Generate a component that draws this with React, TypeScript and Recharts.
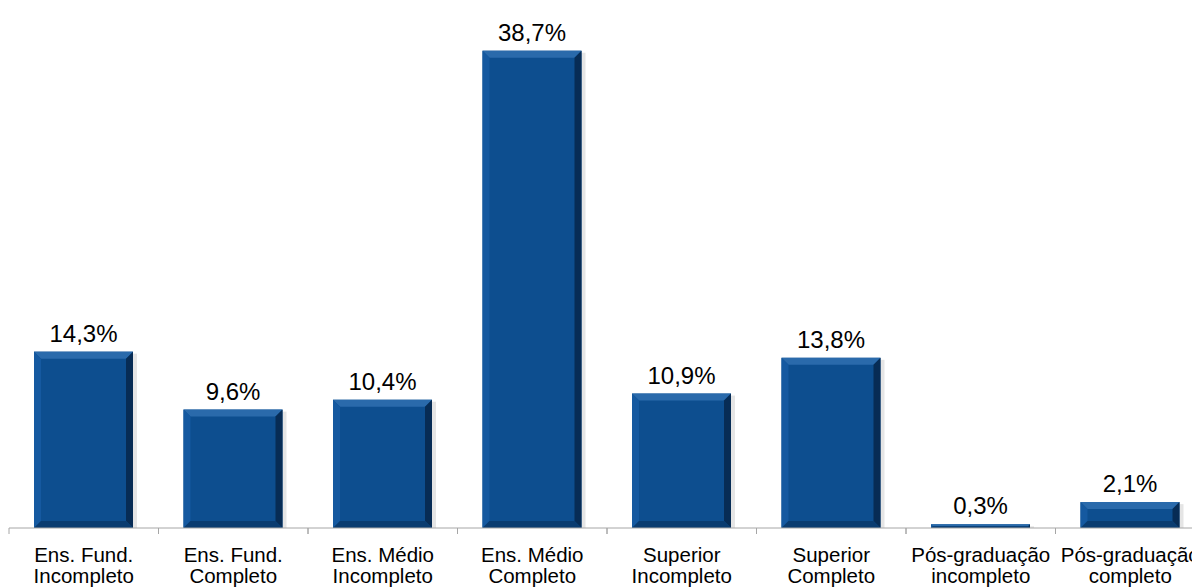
import { Bar, BarChart, LabelList, XAxis, YAxis } from 'recharts';

const categories = [
  ['Ens. Fund.', 'Incompleto'],
  ['Ens. Fund.', 'Completo'],
  ['Ens. Médio', 'Incompleto'],
  ['Ens. Médio', 'Completo'],
  ['Superior', 'Incompleto'],
  ['Superior', 'Completo'],
  ['Pós-graduação', 'incompleto'],
  ['Pós-graduação', 'completo'],
];

const values = [14.3, 9.6, 10.4, 38.7, 10.9, 13.8, 0.3, 2.1];

const data = categories.map((lines, i) => ({ name: lines.join('\n'), value: values[i] }));

const FONT = 'Arial, "Liberation Sans", sans-serif';
const AXIS_COLOR = '#a6a6a6';

// bar with a bevelled look: light top/left, dark right/bottom
function BevelBar(props: any) {
  const { x, y, width, height } = props;
  if (!height || height <= 0) return null;
  const b = Math.min(7, height / 2, width / 2);
  const x2 = x + width;
  const y2 = y + height;
  return (
    <g>
      <rect x={x + 2} y={y + 2} width={width + 2} height={height - 2} fill="#000" opacity={0.1} />
      <rect x={x} y={y} width={width} height={height} fill="#0d4e8f" />
      <polygon points={`${x},${y} ${x2},${y} ${x2 - b},${y + b} ${x + b},${y + b}`} fill="#2a6aab" />
      <polygon points={`${x},${y} ${x + b},${y + b} ${x + b},${y2 - b} ${x},${y2}`} fill="#1559a0" />
      <polygon points={`${x2},${y} ${x2},${y2} ${x2 - b},${y2 - b} ${x2 - b},${y + b}`} fill="#072c55" />
      <polygon points={`${x},${y2} ${x2},${y2} ${x2 - b},${y2 - b} ${x + b},${y2 - b}`} fill="#0a3c70" />
    </g>
  );
}

function CategoryTick(props: any) {
  const { x, y, payload } = props;
  const lines = String(payload.value).split('\n');
  const half = payload.offset ?? 0;
  return (
    <g>
      <line x1={x - half} y1={y - 8} x2={x - half} y2={y - 2} stroke={AXIS_COLOR} />
      <line x1={x + half} y1={y - 8} x2={x + half} y2={y - 2} stroke={AXIS_COLOR} />
      <text x={x} y={y} textAnchor="middle" fontFamily={FONT} fontSize={20.5} fill="#000">
        {lines.map((line, i) => (
          <tspan key={i} x={x} dy={i === 0 ? 26 : 21}>
            {line}
          </tspan>
        ))}
      </text>
    </g>
  );
}

export default function App() {
  return (
    <div style={{ position: 'fixed', left: 0, top: 0, width: 1192, height: 587, overflow: 'hidden', background: '#fff' }}>
      <BarChart
        width={1215}
        height={587}
        data={data}
        margin={{ top: 10, right: 10, bottom: 0, left: 9 }}
        barSize={99}
      >
        <XAxis
          dataKey="name"
          axisLine={{ stroke: AXIS_COLOR }}
          tickLine={false}
          tick={<CategoryTick />}
          height={59}
          interval={0}
        />
        <YAxis hide domain={[0, 42]} />
        <Bar dataKey="value" shape={<BevelBar />} isAnimationActive={false}>
          <LabelList
            dataKey="value"
            position="top"
            offset={10}
            formatter={(v: any) => `${Number(v).toFixed(1).replace('.', ',')}%`}
            style={{ fontFamily: FONT, fontSize: 24, fill: '#000' }}
          />
        </Bar>
      </BarChart>
    </div>
  );
}
